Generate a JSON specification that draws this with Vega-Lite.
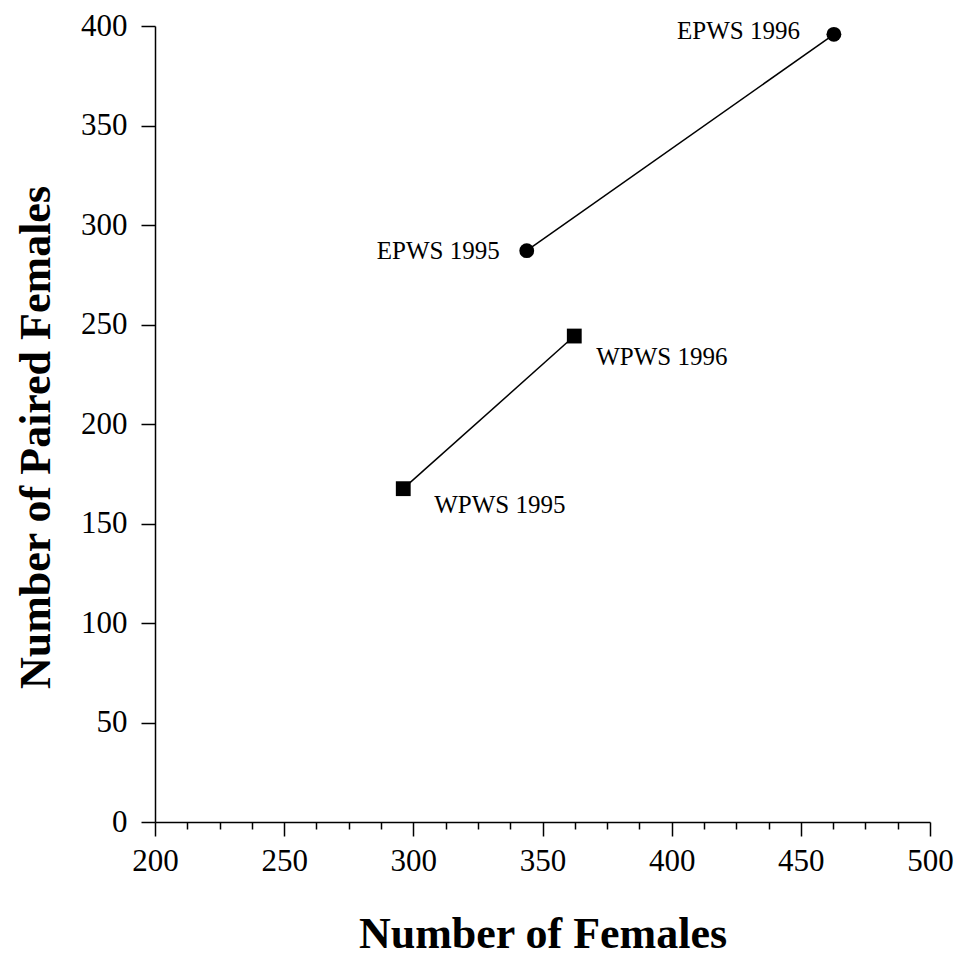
{
  "$schema": "https://vega.github.io/schema/vega-lite/v6.json",
  "autosize": "none",
  "width": 775,
  "height": 796,
  "padding": {"left": 155, "top": 26, "right": 27, "bottom": 135},
  "background": "white",
  "config": {
    "view": {"stroke": null},
    "font": "Liberation Serif",
    "axis": {
      "domainColor": "black",
      "tickColor": "black",
      "labelColor": "black",
      "titleColor": "black",
      "grid": false,
      "labelFont": "Liberation Serif",
      "titleFont": "Liberation Serif",
      "labelFontSize": 31,
      "titleFontSize": 44,
      "titleFontWeight": "bold",
      "domainWidth": 1.5,
      "tickWidth": 1.5,
      "labelFlush": false
    }
  },
  "data": {
    "values": [
      {"site": "EPWS", "year": 1995, "females": 343.9, "paired": 287.1, "label": "EPWS 1995"},
      {"site": "EPWS", "year": 1996, "females": 462.8, "paired": 395.8, "label": "EPWS 1996"},
      {"site": "WPWS", "year": 1995, "females": 296.1, "paired": 167.5, "label": "WPWS 1995"},
      {"site": "WPWS", "year": 1996, "females": 362.3, "paired": 244.2, "label": "WPWS 1996"}
    ]
  },
  "encoding": {
    "x": {
      "field": "females",
      "type": "quantitative",
      "scale": {"domain": [200, 500], "nice": false, "zero": false},
      "axis": {
        "title": "Number of Females",
        "values": [200, 212.5, 225, 237.5, 250, 262.5, 275, 287.5, 300, 312.5, 325, 337.5, 350, 362.5, 375, 387.5, 400, 412.5, 425, 437.5, 450, 462.5, 475, 487.5, 500],
        "labelExpr": "datum.value % 50 === 0 ? datum.label : ''",
        "labelOverlap": false,
        "tickSize": {"condition": {"test": "datum.value % 50 === 0", "value": 14}, "value": 7},
        "labelPadding": 10,
        "titlePadding": 36
      }
    },
    "y": {
      "field": "paired",
      "type": "quantitative",
      "scale": {"domain": [0, 400], "nice": false},
      "axis": {
        "title": "Number of Paired Females",
        "values": [0, 50, 100, 150, 200, 250, 300, 350, 400],
        "labelOverlap": false,
        "tickSize": 14,
        "labelPadding": 14,
        "titlePadding": 22,
        "titleY": 411
      }
    }
  },
  "layer": [
    {
      "mark": {"type": "line", "color": "black", "strokeWidth": 1.5},
      "encoding": {"detail": {"field": "site"}, "order": {"field": "year"}}
    },
    {
      "mark": {"type": "point", "filled": true, "color": "black", "opacity": 1},
      "encoding": {
        "shape": {"field": "site", "type": "nominal", "scale": {"domain": ["EPWS", "WPWS"], "range": ["circle", "square"]}, "legend": null},
        "size": {"value": 220}
      }
    },
    {
      "transform": [{"filter": "datum.label === 'EPWS 1995'"}],
      "mark": {"type": "text", "align": "right", "baseline": "middle", "dx": -27, "dy": 0, "fontSize": 25, "color": "black"},
      "encoding": {"text": {"field": "label"}}
    },
    {
      "transform": [{"filter": "datum.label === 'EPWS 1996'"}],
      "mark": {"type": "text", "align": "right", "baseline": "middle", "dx": -34, "dy": -3, "fontSize": 25, "color": "black"},
      "encoding": {"text": {"field": "label"}}
    },
    {
      "transform": [{"filter": "datum.label === 'WPWS 1996'"}],
      "mark": {"type": "text", "align": "left", "baseline": "middle", "dx": 22, "dy": 21, "fontSize": 25, "color": "black"},
      "encoding": {"text": {"field": "label"}}
    },
    {
      "transform": [{"filter": "datum.label === 'WPWS 1995'"}],
      "mark": {"type": "text", "align": "left", "baseline": "middle", "dx": 31, "dy": 16, "fontSize": 25, "color": "black"},
      "encoding": {"text": {"field": "label"}}
    }
  ]
}
